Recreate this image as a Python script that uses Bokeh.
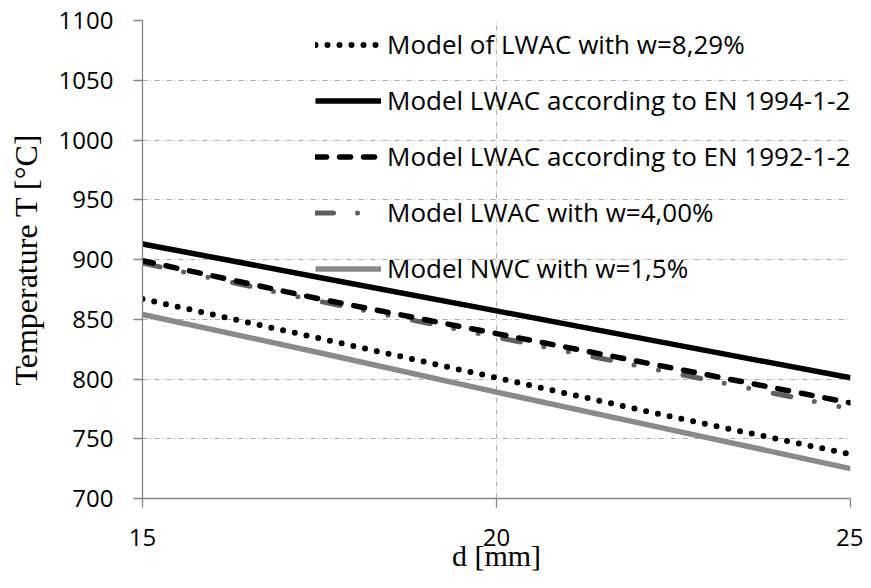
from bokeh.plotting import figure
from bokeh.models import Range1d, Legend, LegendItem, FixedTicker
from bokeh.embed import file_html
from bokeh.resources import INLINE

# ---- data ----
d_mm = [15, 17.5, 20, 22.5, 25]
t_lwac_829 = [867, 834, 801, 768, 737]      # Model of LWAC with w=8,29%
t_en1994 = [913, 885, 857, 829, 801]        # Model LWAC according to EN 1994-1-2
t_en1992 = [899, 867, 838, 809, 780]        # Model LWAC according to EN 1992-1-2
t_lwac_400 = [897, 865, 835, 805, 775]      # Model LWAC with w=4,00%
t_nwc = [854, 822, 789, 757, 725]           # Model NWC with w=1,5%

x_ticks = [15, 20, 25]
y_ticks = [700, 750, 800, 850, 900, 950, 1000, 1050, 1100]

labels = ["Model of LWAC with w=8,29%",
          "Model LWAC according to EN 1994-1-2",
          "Model LWAC according to EN 1992-1-2",
          "Model LWAC with w=4,00%",
          "Model NWC with w=1,5%"]

p = figure(width=863, height=580, output_backend="svg", toolbar_location=None,
           x_range=Range1d(15, 25), y_range=Range1d(700, 1100),
           min_border_left=142, min_border_right=13, min_border_top=20,
           min_border_bottom=82)
p.outline_line_color = None
p.background_fill_color = "white"

# lines
r1 = p.line(d_mm, t_lwac_829, line_color="black", line_width=6,
            line_dash="0 12", line_cap="round")
r2 = p.line(d_mm, t_en1994, line_color="black", line_width=5.5)
r4 = p.line(d_mm, t_lwac_400, line_color="#5f5f5f", line_width=5,
            line_dash="18 24 0 25 0 25", line_cap="round")
r3 = p.line(d_mm, t_en1992, line_color="black", line_width=5.5,
            line_dash="11 13", line_cap="round")
r5 = p.line(d_mm, t_nwc, line_color="#8a8a8a", line_width=5.5)

legend = Legend(items=[LegendItem(label=labels[0], renderers=[r1]),
                       LegendItem(label=labels[1], renderers=[r2]),
                       LegendItem(label=labels[2], renderers=[r3]),
                       LegendItem(label=labels[3], renderers=[r4]),
                       LegendItem(label=labels[4], renderers=[r5])],
                location=(173, 212))
legend.border_line_alpha = 0
legend.background_fill_alpha = 0
legend.padding = 0
legend.margin = 0
legend.glyph_width = 66
legend.glyph_height = 35
legend.label_height = 35
legend.spacing = 20
legend.label_standoff = 6
legend.label_text_font = "Open Sans"
legend.label_text_font_size = "26px"
legend.label_text_color = "black"
p.add_layout(legend, "center")

# axes
for ax in (p.xaxis[0], p.yaxis[0]):
    ax.axis_line_color = "#868686"
    ax.axis_line_width = 1.3
    ax.major_tick_line_color = "#868686"
    ax.major_tick_line_width = 1.3
    ax.major_tick_in = 0
    ax.major_tick_out = 9
    ax.minor_tick_line_color = None
    ax.major_label_text_font = "Open Sans"
    ax.major_label_text_font_size = "24px"
    ax.major_label_text_color = "black"
    ax.axis_label_text_font = "Liberation Serif"
    ax.axis_label_text_font_style = "normal"
    ax.axis_label_text_color = "black"

p.xaxis.ticker = FixedTicker(ticks=x_ticks)
p.yaxis.ticker = FixedTicker(ticks=y_ticks)
p.yaxis.major_label_standoff = 20
p.xaxis.major_label_standoff = 21
p.yaxis.axis_label = "Temperature T [°C]"
p.yaxis.axis_label_text_font_size = "32px"
p.yaxis.axis_label_standoff = 12
p.xaxis.axis_label = "d [mm]"
p.xaxis.axis_label_text_font_size = "30px"
p.xaxis.axis_label_standoff = -10

# grid
p.xgrid.ticker = FixedTicker(ticks=x_ticks)
p.ygrid.ticker = FixedTicker(ticks=y_ticks)
for g in (p.xgrid[0], p.ygrid[0]):
    g.grid_line_color = "#ababab"
    g.grid_line_width = 1
    g.grid_line_dash = "5 3 1 3"

open("out.html", "w").write(file_html(p, INLINE))
